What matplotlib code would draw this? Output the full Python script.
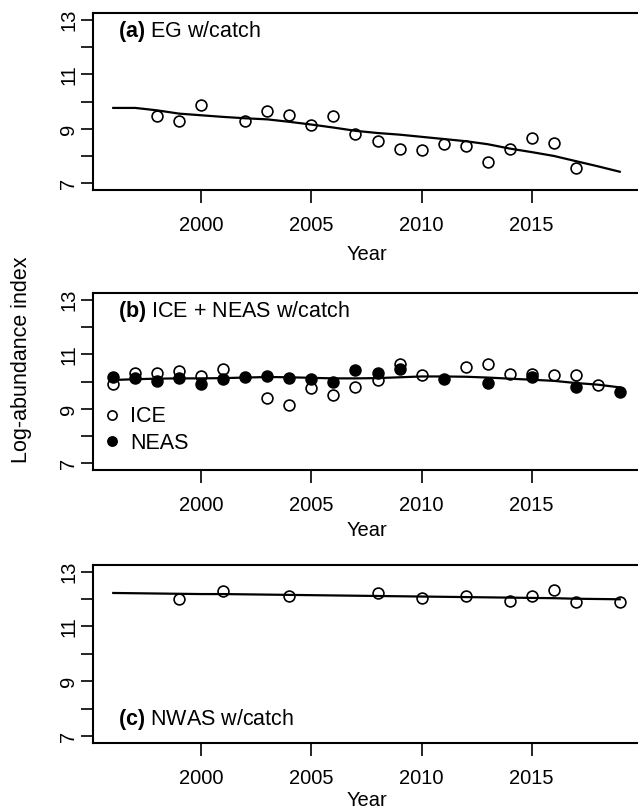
import matplotlib
matplotlib.use("Agg")
import matplotlib.pyplot as plt

plt.rcParams['font.family'] = ['Liberation Sans', 'DejaVu Sans']
plt.rcParams['mathtext.fontset'] = 'custom'
plt.rcParams['mathtext.rm'] = 'Liberation Sans'
plt.rcParams['mathtext.bf'] = 'Liberation Sans:bold'

# (a) EG w/catch
eg_years = [1998, 1999, 2000, 2002, 2003, 2004, 2005, 2006, 2007, 2008,
            2009, 2010, 2011, 2012, 2013, 2014, 2015, 2016, 2017]
eg_obs = [9.48, 9.30, 9.89, 9.28, 9.65, 9.51, 9.16, 9.48, 8.82, 8.57,
          8.28, 8.23, 8.43, 8.38, 7.80, 8.28, 8.65, 8.49, 7.57]

fit_years = list(range(1996, 2020))
eg_fit = [9.77, 9.77, 9.68, 9.56, 9.50, 9.44, 9.39, 9.35, 9.26, 9.16,
          9.05, 8.93, 8.85, 8.79, 8.71, 8.63, 8.55, 8.44, 8.28, 8.15,
          8.01, 7.82, 7.63, 7.43]

# (b) ICE + NEAS w/catch
ice_years = [1996, 1997, 1998, 1999, 2000, 2001, 2003, 2004, 2005, 2006,
             2007, 2008, 2009, 2010, 2012, 2013, 2014, 2015, 2016, 2017, 2018]
ice_obs = [9.92, 10.31, 10.33, 10.38, 10.22, 10.45, 9.40, 9.14, 9.77, 9.51,
           9.82, 10.06, 10.63, 10.25, 10.54, 10.65, 10.27, 10.28, 10.26, 10.23, 9.88]

neas_years = [1996, 1997, 1998, 1999, 2000, 2001, 2002, 2003, 2004, 2005,
              2006, 2007, 2008, 2009, 2011, 2013, 2015, 2017, 2019]
neas_obs = [10.16, 10.14, 10.03, 10.12, 9.92, 10.10, 10.17, 10.22, 10.14, 10.11,
            10.00, 10.43, 10.32, 10.47, 10.11, 9.94, 10.18, 9.79, 9.63]

icn_fit = [10.06, 10.09, 10.11, 10.12, 10.12, 10.13, 10.15, 10.17, 10.16, 10.14,
           10.12, 10.12, 10.13, 10.16, 10.19, 10.19, 10.18, 10.15, 10.11, 10.07,
           10.03, 9.95, 9.89, 9.79]

# (c) NWAS w/catch
nwas_years = [1999, 2001, 2004, 2008, 2010, 2012, 2014, 2015, 2016, 2017, 2019]
nwas_obs = [12.00, 12.28, 12.12, 12.21, 12.04, 12.12, 11.93, 12.11, 12.34, 11.90, 11.88]

nwas_fit = [12.22, 12.21, 12.20, 12.19, 12.18, 12.18, 12.17, 12.16, 12.15, 12.14,
            12.13, 12.12, 12.11, 12.10, 12.09, 12.08, 12.07, 12.06, 12.05, 12.04,
            12.03, 12.01, 12.00, 11.99]

W, H = 638, 811
fig = plt.figure(figsize=(W / 100, H / 100), dpi=100)

fs = 14.5
x_left, x_right = 93, 640


def make_axes(top, bottom, year_y):
    ax = fig.add_axes([x_left / W, 1 - bottom / H, (x_right - x_left) / W, (bottom - top) / H])
    ax.set_xlim(1995.08, 2019.92)
    ax.set_ylim(6.76, 13.24)
    for s in ax.spines.values():
        s.set_linewidth(1.5)
    ax.set_xticks([2000, 2005, 2010, 2015])
    ax.set_xticklabels(['2000', '2005', '2010', '2015'], fontsize=fs)
    ax.set_yticks(range(7, 14))
    ax.set_yticklabels(['7', '', '9', '', '11', '', '13'], fontsize=fs,
                       rotation=90, va='center')
    ax.tick_params(direction='out', length=9, width=1.2, pad=10)
    ax.tick_params(axis='y', pad=1.5)
    ax.set_xlabel('Year', fontsize=fs, va='center')
    ax.xaxis.set_label_coords(0.5, -(year_y - bottom) / (bottom - top))
    return ax


mk = dict(marker='o', ms=7.8, mew=1.2, ls='none', color='black')

ax1 = make_axes(13.3, 190, 255)
ax1.plot(eg_years, eg_obs, mfc='none', **mk)
ax1.plot(fit_years, eg_fit, color='black', lw=1.6)
ax1.text(0.046, 0.895, r'$\bf{(a)}$ EG w/catch', transform=ax1.transAxes,
         fontsize=15.5, va='center', ha='left')

ax2 = make_axes(293.3, 470, 530)
ax2.plot(ice_years, ice_obs, mfc='none', label='ICE', **mk)
ax2.plot(neas_years, neas_obs, mfc='black', label='NEAS', **mk)
ax2.plot(fit_years, icn_fit, color='black', lw=1.6)
ax2.text(0.046, 0.895, r'$\bf{(b)}$ ICE + NEAS w/catch', transform=ax2.transAxes,
         fontsize=15.5, va='center', ha='left')
ax2.legend(loc='center left', bbox_to_anchor=(0.015, 0.226), frameon=False,
           fontsize=15.5, handlelength=1.0, handletextpad=0.35, labelspacing=0.25,
           borderpad=0, borderaxespad=0, markerscale=0.85)

ax3 = make_axes(565, 742.7, 801)
ax3.plot(nwas_years, nwas_obs, mfc='none', **mk)
ax3.plot(fit_years, nwas_fit, color='black', lw=1.6)
ax3.text(0.046, 0.128, r'$\bf{(c)}$ NWAS w/catch', transform=ax3.transAxes,
         fontsize=15.5, va='center', ha='left')

fig.text(22 / W, 1 - 360 / H, 'Log-abundance index', rotation=90,
         fontsize=15.5, ha='center', va='center')

plt.savefig('out.png', dpi=100)
